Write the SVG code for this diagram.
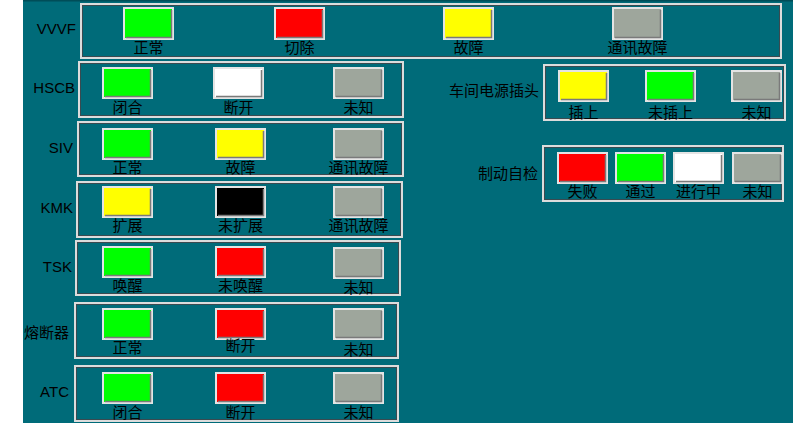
<svg xmlns="http://www.w3.org/2000/svg" width="800" height="428" viewBox="0 0 800 428">
<defs>
<style>
text{font-family:"Liberation Sans","Noto Sans CJK SC",sans-serif;font-size:15px;fill:#000}
.lab{text-anchor:end}
.cap{text-anchor:middle}
.box{fill:none;stroke:#dcdcdc;stroke-width:2}
.boxi{fill:none;stroke:#3a4a50;stroke-width:1}
.lo{stroke:#e4e4e4;stroke-width:2}
.sh{fill:none;stroke:#7a7a7a;stroke-width:1.5}
.g{fill:#00ff00}.r{fill:#ff0000}.y{fill:#ffff00}.w{fill:#ffffff}.k{fill:#000000}.n{fill:#9ea69c}
</style>
</defs>
<rect x="0" y="0" width="800" height="428" fill="#ffffff"/>
<rect x="23" y="0" width="770" height="423" fill="#006b79"/>
<rect x="23" y="0" width="770" height="1.5" fill="#004d58"/>

<g id="vvvf">
<text class="lab" x="76" y="33.5">VVVF</text>
<rect class="box" x="81" y="4" width="700" height="54"/><rect class="boxi" x="82.5" y="5.5" width="697" height="51"/>
<rect class="g lo" x="124" y="8" width="49" height="31"/><path class="sh" d="M126 37.5H171.5V10"/>
<rect class="r lo" x="275" y="8" width="49" height="31"/><path class="sh" d="M277 37.5H322.5V10"/>
<rect class="y lo" x="444" y="8" width="49" height="31"/><path class="sh" d="M446 37.5H491.5V10"/>
<rect class="n lo" x="613" y="8" width="49" height="31"/><path class="sh" d="M615 37.5H660.5V10"/>
<text class="cap" x="148.5" y="52.5">正常</text><text class="cap" x="299.5" y="52.5">切除</text><text class="cap" x="468.5" y="52.5">故障</text><text class="cap" x="637.5" y="52.5">通讯故障</text>
</g>

<g id="hscb">
<text class="lab" x="75" y="93">HSCB</text>
<rect class="box" x="79" y="62" width="324" height="55"/><rect class="boxi" x="80.5" y="63.5" width="321" height="52"/>
<rect class="g lo" x="103" y="68" width="49" height="30"/><path class="sh" d="M105 96.5H150.5V70"/>
<rect class="w lo" x="214" y="68" width="49" height="30"/><path class="sh" d="M216 96.5H261.5V70"/>
<rect class="n lo" x="334" y="68" width="49" height="30"/><path class="sh" d="M336 96.5H381.5V70"/>
<text class="cap" x="127.5" y="113">闭合</text><text class="cap" x="238.5" y="113">断开</text><text class="cap" x="358.5" y="113">未知</text>
</g>

<g id="siv">
<text class="lab" x="73" y="153">SIV</text>
<rect class="box" x="78" y="122" width="325" height="54"/><rect class="boxi" x="79.5" y="123.5" width="322" height="51"/>
<rect class="g lo" x="103" y="129" width="49" height="30"/><path class="sh" d="M105 157.5H150.5V131"/>
<rect class="y lo" x="216" y="129" width="49" height="30"/><path class="sh" d="M218 157.5H263.5V131"/>
<rect class="n lo" x="334" y="129" width="49" height="30"/><path class="sh" d="M336 157.5H381.5V131"/>
<text class="cap" x="127.5" y="173">正常</text><text class="cap" x="240.5" y="173">故障</text><text class="cap" x="358.5" y="173">通讯故障</text>
</g>

<g id="kmk">
<text class="lab" x="73" y="213">KMK</text>
<rect class="box" x="77" y="182" width="325" height="55"/><rect class="boxi" x="78.5" y="183.5" width="322" height="52"/>
<rect class="y lo" x="103" y="187" width="49" height="30"/><path class="sh" d="M105 215.5H150.5V189"/>
<rect class="k lo" x="216" y="187" width="49" height="30"/><path class="sh" d="M218 215.5H263.5V189"/>
<rect class="n lo" x="334" y="187" width="49" height="30"/><path class="sh" d="M336 215.5H381.5V189"/>
<text class="cap" x="127.5" y="231">扩展</text><text class="cap" x="240.5" y="231">未扩展</text><text class="cap" x="358.5" y="231">通讯故障</text>
</g>

<g id="tsk">
<text class="lab" x="72" y="272">TSK</text>
<rect class="box" x="76" y="241" width="324" height="54"/><rect class="boxi" x="77.5" y="242.5" width="321" height="51"/>
<rect class="g lo" x="103" y="247" width="49" height="30"/><path class="sh" d="M105 275.5H150.5V249"/>
<rect class="r lo" x="216" y="247" width="49" height="30"/><path class="sh" d="M218 275.5H263.5V249"/>
<rect class="n lo" x="334" y="248" width="49" height="30"/><path class="sh" d="M336 276.5H381.5V250"/>
<text class="cap" x="127.5" y="291">唤醒</text><text class="cap" x="240.5" y="291">未唤醒</text><text class="cap" x="358.5" y="293">未知</text>
</g>

<g id="fuse">
<text class="lab" x="69" y="337.5">熔断器</text>
<rect class="box" x="75" y="303" width="323" height="55"/><rect class="boxi" x="76.5" y="304.5" width="320" height="52"/>
<rect class="g lo" x="103" y="309" width="49" height="30"/><path class="sh" d="M105 337.5H150.5V311"/>
<rect class="r lo" x="216" y="309" width="49" height="30"/><path class="sh" d="M218 337.5H263.5V311"/>
<rect class="n lo" x="334" y="309" width="49" height="30"/><path class="sh" d="M336 337.5H381.5V311"/>
<text class="cap" x="127.5" y="353">正常</text><text class="cap" x="240.5" y="351">断开</text><text class="cap" x="358.5" y="355">未知</text>
</g>

<g id="atc">
<text class="lab" x="69" y="397">ATC</text>
<rect class="box" x="75" y="366" width="323" height="55"/><rect class="boxi" x="76.5" y="367.5" width="320" height="52"/>
<rect class="g lo" x="103" y="373" width="49" height="30"/><path class="sh" d="M105 401.5H150.5V375"/>
<rect class="r lo" x="216" y="373" width="49" height="30"/><path class="sh" d="M218 401.5H263.5V375"/>
<rect class="n lo" x="334" y="373" width="49" height="30"/><path class="sh" d="M336 401.5H381.5V375"/>
<text class="cap" x="127.5" y="418">闭合</text><text class="cap" x="240.5" y="418">断开</text><text class="cap" x="358.5" y="418">未知</text>
</g>

<g id="shore-power">
<text class="lab" x="539" y="95.5">车间电源插头</text>
<rect class="box" x="544" y="65" width="241" height="55"/><rect class="boxi" x="545.5" y="66.5" width="238" height="52"/>
<rect class="y lo" x="559" y="71" width="49" height="30"/><path class="sh" d="M561 99.5H606.5V73"/>
<rect class="g lo" x="646" y="71" width="49" height="30"/><path class="sh" d="M648 99.5H693.5V73"/>
<rect class="n lo" x="732" y="71" width="49" height="30"/><path class="sh" d="M734 99.5H779.5V73"/>
<text class="cap" x="583.5" y="118">插上</text><text class="cap" x="670.5" y="118">未插上</text><text class="cap" x="756.5" y="118">未知</text>
</g>

<g id="brake-test">
<text class="lab" x="538" y="178.5">制动自检</text>
<rect class="box" x="543" y="146" width="240" height="55"/><rect class="boxi" x="544.5" y="147.5" width="237" height="52"/>
<rect class="r lo" x="558" y="153" width="49" height="30"/><path class="sh" d="M560 181.5H605.5V155"/>
<rect class="g lo" x="616" y="153" width="49" height="30"/><path class="sh" d="M618 181.5H663.5V155"/>
<rect class="w lo" x="674" y="153" width="49" height="30"/><path class="sh" d="M676 181.5H721.5V155"/>
<rect class="n lo" x="733" y="153" width="49" height="30"/><path class="sh" d="M735 181.5H780.5V155"/>
<text class="cap" x="582.5" y="197">失败</text><text class="cap" x="640.5" y="197">通过</text><text class="cap" x="698.5" y="197">进行中</text><text class="cap" x="757.5" y="197">未知</text>
</g>

<g id="connectors"></g>
</svg>
